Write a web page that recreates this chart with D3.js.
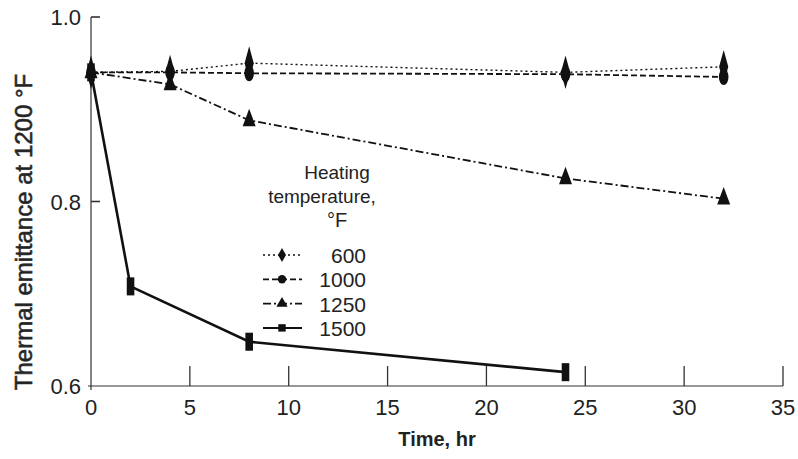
<!DOCTYPE html>
<html><head><meta charset="utf-8">
<script src="https://cdn.jsdelivr.net/npm/d3@7"></script>
<style>body{margin:0;background:#fff}svg{display:block}text{font-family:"Liberation Sans",Arial,sans-serif;fill:#222}</style>
</head><body><svg id="c" width="798" height="459"></svg>
<script>
const xTicks = [0,5,10,15,20,25,30,35];
const yTicks = [0.6,0.8,1.0];
const seriesNames = ["600","1000","1250","1500"];
const t600 = [0,4,8,24,32];
const v600 = [0.940,0.941,0.950,0.940,0.946];
const t1000 = [0,4,8,24,32];
const v1000 = [0.940,0.940,0.939,0.938,0.935];
const t1250 = [0,4,8,24,32];
const v1250 = [0.940,0.927,0.888,0.825,0.803];
const t1500 = [0,2,8,24];
const v1500 = [0.940,0.708,0.648,0.615];
const legendTitle = ["Heating","temperature,","°F"];
const xTitle = "Time, hr";
const yTitle = "Thermal emittance at 1200 °F";

const svg = d3.select("#c");
const x = d3.scaleLinear().domain([0,35]).range([91,783]);
const y = d3.scaleLinear().domain([0.6,1.0]).range([386,17]);

const series = [
  {name:seriesNames[0], t:t600, v:v600, dash:"2,3", w:1.4, sym:d3.symbolDiamond, sc:[0.9,1.9]},
  {name:seriesNames[1], t:t1000, v:v1000, dash:"6,3", w:1.8, sym:d3.symbolCircle, sc:[0.9,1.5]},
  {name:seriesNames[2], t:t1250, v:v1250, dash:"8,3,2,3", w:1.8, sym:d3.symbolTriangle, sc:[0.9,1.4]},
  {name:seriesNames[3], t:t1500, v:v1500, dash:null, w:2.6, sym:d3.symbolSquare, sc:[0.8,1.9]}
];

// axes
const g = svg.append("g");
g.append("line").attr("x1",x(0)).attr("x2",x(0)).attr("y1",y(1.0)).attr("y2",y(0.6)+4).attr("stroke","#333").attr("stroke-width",1.2);
g.append("line").attr("x1",x(0)-3).attr("x2",x(35)).attr("y1",y(0.6)).attr("y2",y(0.6)).attr("stroke","#333").attr("stroke-width",1.2);
yTicks.forEach(v=>{
  if(v>0.6) g.append("line").attr("x1",x(0)).attr("x2",x(0)+9).attr("y1",y(v)).attr("y2",y(v)).attr("stroke","#333").attr("stroke-width",1.6);
  g.append("text").attr("x",x(0)-10).attr("y",y(v)+8).attr("text-anchor","end").attr("font-size",22).text(d3.format(".1f")(v));
});
xTicks.forEach(v=>{
  if(v>0) g.append("line").attr("x1",x(v)).attr("x2",x(v)).attr("y1",y(0.6)).attr("y2",y(0.6)-20).attr("stroke","#333").attr("stroke-width",1.3);
  g.append("text").attr("x",x(v)).attr("y",y(0.6)+29).attr("text-anchor","middle").attr("font-size",22).text(v);
});
g.append("text").attr("x",(x(0)+x(35))/2).attr("y",446).attr("text-anchor","middle").attr("font-size",20).attr("font-weight","bold").attr("fill","#333").text(xTitle);
g.append("text").attr("transform","translate(32,232) rotate(-90)").attr("text-anchor","middle").attr("font-size",24).attr("stroke","#333").attr("stroke-width",0.6).attr("fill","#333").text(yTitle);

const line = d3.line().x(d=>x(d[0])).y(d=>y(d[1]));
series.forEach(s=>{
  const pts = s.t.map((t,i)=>[t,s.v[i]]);
  svg.append("path").attr("d",line(pts)).attr("fill","none").attr("stroke","#111").attr("stroke-width",s.w).attr("stroke-dasharray",s.dash);
  pts.forEach(p=>{
    svg.append("path").attr("d",d3.symbol().type(s.sym).size(90)())
      .attr("transform",`translate(${x(p[0])},${y(p[1])}) scale(${s.sc[0]},${s.sc[1]})`).attr("fill","#111");
  });
});

// legend
legendTitle.forEach((t,i)=>{
  svg.append("text").attr("x",i==1?322:337).attr("y",179+i*24).attr("text-anchor","middle").attr("font-size",i==2?20:19).text(t);
});
series.forEach((s,i)=>{
  const ly = 255+i*24.3;
  svg.append("line").attr("x1",263).attr("x2",302).attr("y1",ly).attr("y2",ly).attr("stroke","#111").attr("stroke-width",Math.min(s.w,2)).attr("stroke-dasharray",s.dash);
  svg.append("path").attr("d",d3.symbol().type(s.sym).size(55)()).attr("transform",`translate(282,${ly})`).attr("fill","#111");
  svg.append("text").attr("x",366).attr("y",ly+8).attr("text-anchor","end").attr("font-size",21).text(s.name);
});
</script></body></html>
